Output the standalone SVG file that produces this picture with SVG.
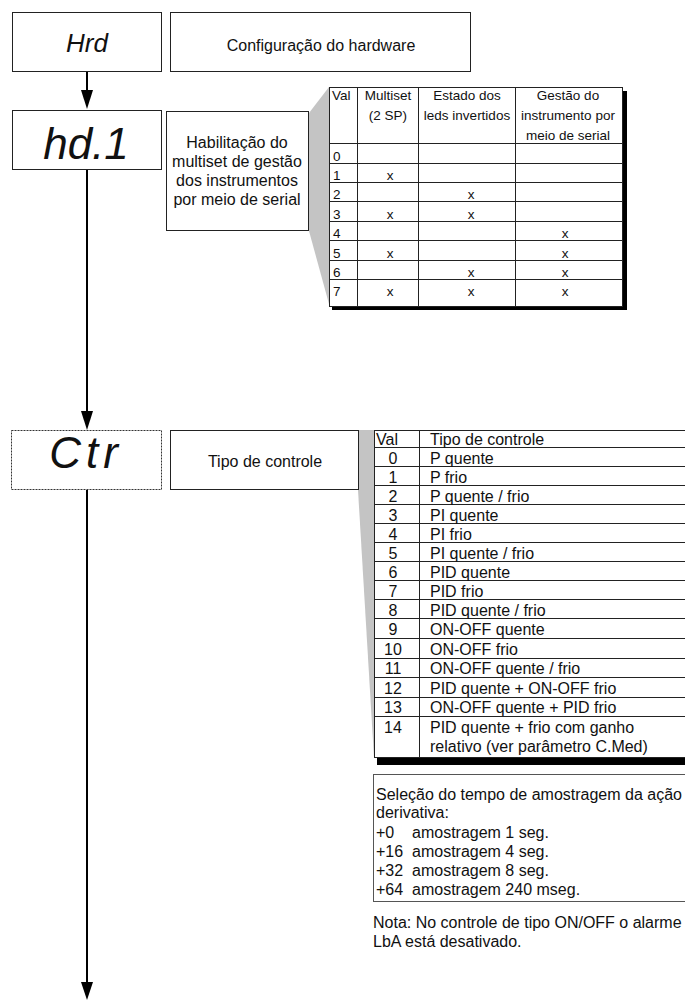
<svg xmlns="http://www.w3.org/2000/svg" width="685" height="1000" viewBox="0 0 685 1000">
<style>
.box{fill:#fff;stroke:#222;stroke-width:1}
.dot{fill:#fff;stroke:#333;stroke-width:1;stroke-dasharray:2 1}
.t{font-family:"Liberation Sans",Arial,sans-serif;font-size:16px;fill:#111}
.tc{font-family:"Liberation Sans",Arial,sans-serif;font-size:16px;fill:#111;text-anchor:middle}
.s{font-family:"Liberation Sans",Arial,sans-serif;font-size:13.5px;fill:#111}
.sc{font-family:"Liberation Sans",Arial,sans-serif;font-size:13.5px;fill:#111;text-anchor:middle}
.seg{font-family:"Liberation Sans",Arial,sans-serif;font-size:44px;font-style:italic;fill:#111;text-anchor:middle}
.ln{stroke:#222;stroke-width:1}
.wedge{fill:#c4c4c4}
.sh{fill:#000}
.conn{stroke:#000;stroke-width:2;fill:none}
</style>

<g id="connectors">
<line class="conn" x1="87" y1="72" x2="87" y2="91"/>
<path d="M81,90 L93,90 L87,109 Z" fill="#000"/>
<line class="conn" x1="87" y1="170" x2="87" y2="412"/>
<path d="M81,411 L93,411 L87,430 Z" fill="#000"/>
<line class="conn" x1="87" y1="490" x2="87" y2="983"/>
<path d="M81,982 L93,982 L87,1000 Z" fill="#000"/>
</g>

<g id="node-hrd">
<rect class="box" x="12.5" y="12.5" width="149" height="59"/>
<text x="87" y="52" font-family="Liberation Sans,Arial,sans-serif" font-size="26" font-style="italic" text-anchor="middle" fill="#111">Hrd</text>
</g>
<g id="desc-hrd">
<rect class="box" x="170.5" y="12.5" width="300" height="59"/>
<text class="tc" x="321" y="51">Configuração do hardware</text>
</g>

<g id="node-hd1">
<rect class="box" x="12.5" y="110.5" width="149" height="59"/>
<text class="seg" x="86" y="159">hd.1</text>
</g>
<g id="desc-hd1">
<polygon class="wedge" points="309,113 329,87 329,304 309,231"/>
<rect class="box" x="166.5" y="111.5" width="142" height="119"/>
<text class="tc" x="237" y="148">Habilitação do</text>
<text class="tc" x="237" y="167">multiset de gestão</text>
<text class="tc" x="237" y="186">dos instrumentos</text>
<text class="tc" x="237" y="205">por meio de serial</text>
</g>

<g id="table-hd1">
<rect class="sh" x="332" y="91" width="295" height="219"/>
<rect class="box" x="329.5" y="87.5" width="293" height="219"/>
<line class="ln" x1="357.5" y1="88" x2="357.5" y2="306"/>
<line class="ln" x1="418.5" y1="88" x2="418.5" y2="306"/>
<line class="ln" x1="515.5" y1="88" x2="515.5" y2="306"/>
<g class="ln">
<line x1="330" y1="143.5" x2="622" y2="143.5"/>
<line x1="330" y1="163.5" x2="622" y2="163.5"/>
<line x1="330" y1="182.5" x2="622" y2="182.5"/>
<line x1="330" y1="201.5" x2="622" y2="201.5"/>
<line x1="330" y1="221.5" x2="622" y2="221.5"/>
<line x1="330" y1="240.5" x2="622" y2="240.5"/>
<line x1="330" y1="260.5" x2="622" y2="260.5"/>
<line x1="330" y1="279.5" x2="622" y2="279.5"/>
</g>
<text class="s" x="332" y="100">Val</text>
<text class="sc" x="388" y="100">Multiset</text>
<text class="sc" x="388" y="120">(2 SP)</text>
<text class="sc" x="467" y="100">Estado dos</text>
<text class="sc" x="467" y="120">leds invertidos</text>
<text class="sc" x="568" y="100">Gestão do</text>
<text class="sc" x="568" y="120">instrumento por</text>
<text class="sc" x="568" y="140">meio de serial</text>
<text class="s" x="333" y="161">0</text>
<text class="s" x="333" y="180">1</text>
<text class="s" x="333" y="199">2</text>
<text class="s" x="333" y="219">3</text>
<text class="s" x="333" y="238">4</text>
<text class="s" x="333" y="258">5</text>
<text class="s" x="333" y="277">6</text>
<text class="s" x="333" y="296">7</text>
<text class="sc" x="390" y="180">x</text>
<text class="sc" x="390" y="219">x</text>
<text class="sc" x="390" y="258">x</text>
<text class="sc" x="390" y="296">x</text>
<text class="sc" x="471" y="199">x</text>
<text class="sc" x="471" y="219">x</text>
<text class="sc" x="471" y="277">x</text>
<text class="sc" x="471" y="296">x</text>
<text class="sc" x="565" y="238">x</text>
<text class="sc" x="565" y="258">x</text>
<text class="sc" x="565" y="277">x</text>
<text class="sc" x="565" y="296">x</text>
</g>

<g id="node-ctr">
<rect class="dot" x="11.5" y="430.5" width="150" height="59"/>
<text class="seg" x="86" y="468" letter-spacing="5">Ctr</text>
</g>
<g id="desc-ctr">
<polygon class="wedge" points="358,430 374,430 374,758 358,490"/>
<rect class="box" x="170.5" y="430.5" width="188" height="59"/>
<text class="tc" x="265" y="467">Tipo de controle</text>
</g>

<g id="table-ctr">
<rect class="sh" x="377" y="430" width="310" height="335"/>
<rect class="box" x="374.5" y="430.5" width="320" height="327"/>
<line class="ln" x1="419.5" y1="431" x2="419.5" y2="757"/>
<g class="ln">
<line x1="375" y1="447.5" x2="685" y2="447.5"/>
<line x1="375" y1="466.5" x2="685" y2="466.5"/>
<line x1="375" y1="485.5" x2="685" y2="485.5"/>
<line x1="375" y1="504.5" x2="685" y2="504.5"/>
<line x1="375" y1="523.5" x2="685" y2="523.5"/>
<line x1="375" y1="542.5" x2="685" y2="542.5"/>
<line x1="375" y1="561.5" x2="685" y2="561.5"/>
<line x1="375" y1="580.5" x2="685" y2="580.5"/>
<line x1="375" y1="599.5" x2="685" y2="599.5"/>
<line x1="375" y1="618.5" x2="685" y2="618.5"/>
<line x1="375" y1="638.5" x2="685" y2="638.5"/>
<line x1="375" y1="658.5" x2="685" y2="658.5"/>
<line x1="375" y1="677.5" x2="685" y2="677.5"/>
<line x1="375" y1="697.5" x2="685" y2="697.5"/>
<line x1="375" y1="716.5" x2="685" y2="716.5"/>
</g>
<text class="t" x="376" y="445">Val</text>
<text class="t" x="430" y="445">Tipo de controle</text>
<text class="tc" x="393" y="464">0</text><text class="t" x="430" y="464">P quente</text>
<text class="tc" x="393" y="483">1</text><text class="t" x="430" y="483">P frio</text>
<text class="tc" x="393" y="502">2</text><text class="t" x="430" y="502">P quente / frio</text>
<text class="tc" x="393" y="521">3</text><text class="t" x="430" y="521">PI quente</text>
<text class="tc" x="393" y="540">4</text><text class="t" x="430" y="540">PI frio</text>
<text class="tc" x="393" y="559">5</text><text class="t" x="430" y="559">PI quente / frio</text>
<text class="tc" x="393" y="578">6</text><text class="t" x="430" y="578">PID quente</text>
<text class="tc" x="393" y="597">7</text><text class="t" x="430" y="597">PID frio</text>
<text class="tc" x="393" y="616">8</text><text class="t" x="430" y="616">PID quente / frio</text>
<text class="tc" x="393" y="635">9</text><text class="t" x="430" y="635">ON-OFF quente</text>
<text class="tc" x="393" y="655">10</text><text class="t" x="430" y="655">ON-OFF frio</text>
<text class="tc" x="393" y="674">11</text><text class="t" x="430" y="674">ON-OFF quente / frio</text>
<text class="tc" x="393" y="694">12</text><text class="t" x="430" y="694">PID quente + ON-OFF frio</text>
<text class="tc" x="393" y="713">13</text><text class="t" x="430" y="713">ON-OFF quente + PID frio</text>
<text class="tc" x="393" y="733">14</text><text class="t" x="430" y="733">PID quente + frio com ganho</text>
<text class="t" x="430" y="752">relativo (ver parâmetro C.Med)</text>
</g>

<g id="note-sampling">
<rect x="373.5" y="774.5" width="320" height="127" fill="#fff" stroke="#555" stroke-width="1"/>
<text class="t" x="376" y="800">Seleção do tempo de amostragem da ação</text>
<text class="t" x="376" y="818">derivativa:</text>
<text class="t" x="376" y="838">+0</text><text class="t" x="412" y="838">amostragem 1 seg.</text>
<text class="t" x="376" y="857">+16</text><text class="t" x="412" y="857">amostragem 4 seg.</text>
<text class="t" x="376" y="876">+32</text><text class="t" x="412" y="876">amostragem 8 seg.</text>
<text class="t" x="376" y="895">+64</text><text class="t" x="412" y="895">amostragem 240 mseg.</text>
</g>

<g id="note-lba">
<text class="t" x="373" y="928">Nota: No controle de tipo ON/OFF o alarme</text>
<text class="t" x="373" y="947">LbA está desativado.</text>
</g>
</svg>
